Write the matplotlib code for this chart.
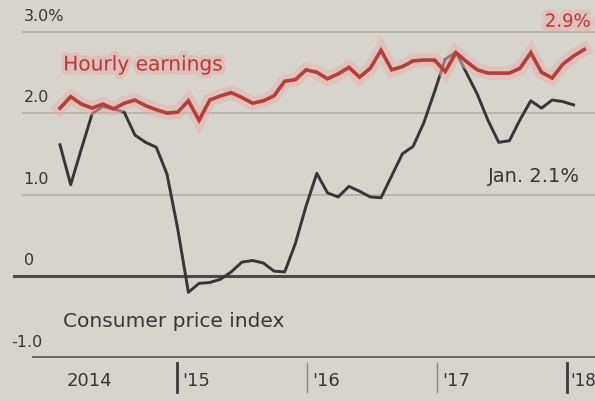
import matplotlib
matplotlib.use("Agg")
import matplotlib.pyplot as plt
import matplotlib.patheffects as pe
import numpy as np

# Year-over-year change, monthly, Jan 2014 onward
cpi = [1.61, 1.12, 1.56, 1.99, 2.08, 2.05, 2.01, 1.73, 1.64, 1.58, 1.25, 0.58,
       -0.20, -0.09, -0.08, -0.04, 0.05, 0.17, 0.19, 0.16, 0.06, 0.05, 0.40, 0.86,
       1.26, 1.02, 0.97, 1.10, 1.04, 0.97, 0.96, 1.23, 1.50, 1.59, 1.88, 2.26,
       2.66, 2.75, 2.49, 2.23, 1.91, 1.64, 1.66, 1.92, 2.15, 2.06, 2.16, 2.14,
       2.10]
earnings = [2.06, 2.20, 2.11, 2.06, 2.11, 2.05, 2.12, 2.16, 2.09, 2.04, 2.00, 2.01,
            2.15, 1.91, 2.16, 2.21, 2.25, 2.19, 2.12, 2.15, 2.21, 2.39, 2.41, 2.53,
            2.50, 2.42, 2.48, 2.56, 2.44, 2.55, 2.77, 2.53, 2.57, 2.64, 2.65, 2.65,
            2.51, 2.74, 2.63, 2.53, 2.49, 2.49, 2.49, 2.55, 2.74, 2.50, 2.43, 2.60,
            2.70, 2.78]
y_ticks = [3.0, 2.0, 1.0, 0.0, -1.0]
y_labels = ["3.0%", "2.0", "1.0", "0", "-1.0"]
year_labels = ["2014", "'15", "'16", "'17", "'18"]
year_ticks = [10.95, 23.1, 35.25, 47.4]

bg = "#d7d4ce"
red = "#b43f3a"
pink = "#eab2ad"
dark = "#363636"

fig = plt.figure(figsize=(5.95, 4.01), dpi=100)
fig.patch.set_facecolor(bg)
ax = fig.add_axes([0, 0, 1, 1])
ax.set_facecolor(bg)
ax.set_xlim(-5.607, 50.0)
ax.set_ylim(-1.534, 3.387)
ax.axis("off")

# horizontal reference lines
for v in [3.0, 2.0, 1.0]:
    ax.plot([-3.5, 50], [v, v], color="#b3afa8", lw=1.2, zorder=1)
ax.plot([-4.3, 50], [0, 0], color="#4a4a4a", lw=2.2, zorder=2)
ax.plot([-2.5, 50], [-1, -1], color="#6a6a6a", lw=1.4, zorder=2)

# y labels (sit above their lines)
for v, lab in zip(y_ticks, y_labels):
    ax.text(-3.4 if v != -1.0 else -4.6, v + 0.19, lab, fontsize=11.5, color=dark,
            ha="left", va="center", zorder=3)

# year ticks and labels
ax.text(0.6, -1.285, year_labels[0], fontsize=13, color=dark, ha="left", va="center")
for i, (t, lab) in enumerate(zip(year_ticks, year_labels[1:])):
    strong = i in (0, 3)
    ax.plot([t, t], [-1.07, -1.42], color="#3a3a3a" if strong else "#8a8782",
            lw=2.0 if strong else 1.0, zorder=2)
    last = i == 3
    ax.text(t + (0.3 if last else 0.45), -1.285, lab, fontsize=12 if last else 13,
            color=dark, ha="left", va="center")

# series
x_cpi = np.arange(len(cpi))
x_earn = np.arange(len(earnings))
ax.plot(x_earn, earnings, color=red, lw=2.6, zorder=5, solid_joinstyle="miter",
        path_effects=[pe.Stroke(linewidth=10, foreground=pink, alpha=0.55), pe.Normal()])
ax.plot(x_cpi, cpi, color=dark, lw=2.1, zorder=4)

# annotations
halo = [pe.withStroke(linewidth=6, foreground=pink, alpha=0.6)]
ax.text(0.3, 2.59, "Hourly earnings", fontsize=14.5, color=red, ha="left", va="center",
        zorder=6, path_effects=halo)
ax.text(0.3, -0.56, "Consumer price index", fontsize=14.5, color=dark, ha="left",
        va="center", zorder=6)
ax.text(40.0, 1.22, "Jan. 2.1%", fontsize=14, color=dark, ha="left", va="center", zorder=6)
ax.text(49.6, 3.12, "2.9%", fontsize=13, color=red, ha="right", va="center", zorder=6,
        path_effects=halo)

fig.savefig("out.png", dpi=100, facecolor=bg)
